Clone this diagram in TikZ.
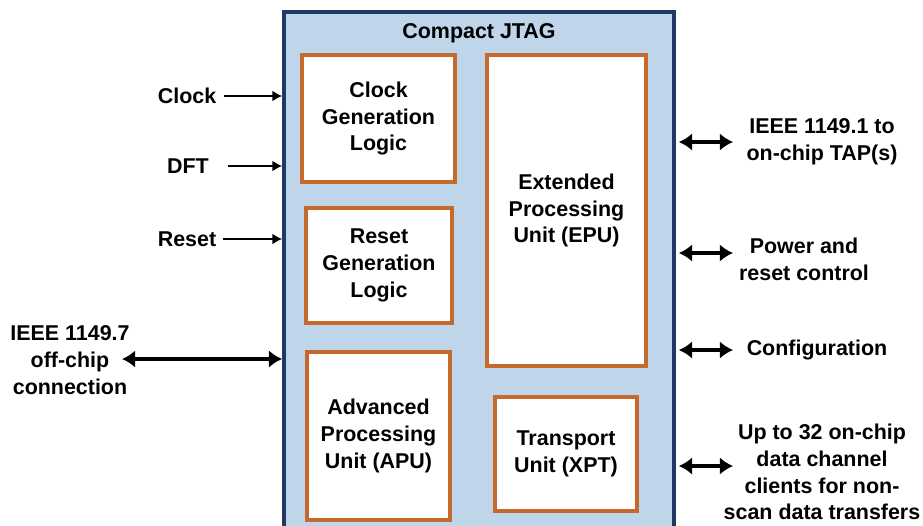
\documentclass[tikz,border=0pt]{standalone}
\usepackage{fontspec}
\usetikzlibrary{arrows.meta}
\setmainfont{Liberation Sans}
\definecolor{jtagfill}{RGB}{190,213,234}
\definecolor{jtagline}{RGB}{31,56,100}
\definecolor{unitline}{RGB}{197,106,44}
\newcommand{\txtsize}{\fontsize{12.2}{15.2}\selectfont\bfseries}
\tikzset{
  unitbox/.style={draw=unitline,line width=1.9pt,fill=white,align=center,font=\txtsize},
  lbl/.style={align=center,font=\txtsize,inner sep=2pt},
  sigarr/.style={-{Latex[length=5.5pt,width=6pt]},line width=0.7pt},
  busarr/.style={{Latex[length=7.5pt,width=10pt]}-{Latex[length=7.5pt,width=10pt]},line width=2.1pt}
}
\begin{document}
\begin{tikzpicture}[x=0.02cm,y=-0.02cm]
        \clip (0,0) rectangle (923,525);
        \node[draw=jtagline,line width=2.2pt,fill=jtagfill,minimum width=7.8cm,minimum height=10.96cm] (cjtag) at (479,286) {};
        \node[lbl] (title) at (479,33) {Compact JTAG};
        \node[unitbox,minimum width=3.06cm,minimum height=2.54cm] (clkgen) at (378.5,118.5) {Clock\\ Generation\\ Logic};
        \node[unitbox,minimum width=2.92cm,minimum height=2.3cm] (rstgen) at (379,265.5) {Reset\\ Generation\\ Logic};
        \node[unitbox,minimum width=2.86cm,minimum height=3.36cm] (apu) at (378.5,436) {Advanced\\ Processing\\ Unit (APU)};
        \node[unitbox,minimum width=3.18cm,minimum height=6.22cm] (epu) at (566.5,210.5) {Extended\\ Processing\\ Unit (EPU)};
        \node[unitbox,minimum width=2.84cm,minimum height=2.28cm] (xpt) at (566,454) {Transport\\ Unit (XPT)};
        % inputs on the left
        \node[lbl] (clk) at (187,96) {Clock};
        \draw[sigarr] (clk.east) ++(4,0) coordinate (clkstart) -- (clkstart -| cjtag.west);
        \node[lbl] (dft) at (188,166) {DFT};
        \draw[sigarr] (dft.east) ++(15,0) coordinate (dftstart) -- (dftstart -| cjtag.west);
        \node[lbl] (rst) at (187,239) {Reset};
        \draw[sigarr] (rst.east) ++(3,0) coordinate (rststart) -- (rststart -| cjtag.west);
        \node[lbl] (offchip) at (70,360) {IEEE 1149.7\\ off-chip\\ connection};
        \coordinate (offend) at (122,359);
        \draw[busarr] (offend) -- (offend -| cjtag.west);
        % interfaces on the right
        \node[lbl] (tap) at (822,142) {IEEE 1149.1 to\\ on-chip TAP(s)};
        \coordinate (tapend) at (733,142);
        \draw[busarr] (tapend -| cjtag.east) ++(3,0) -- (tapend);
        \node[lbl] (pwr) at (804,259) {Power and\\ reset control};
        \coordinate (pwrend) at (733,253);
        \draw[busarr] (pwrend -| cjtag.east) ++(3,0) -- (pwrend);
        \node[lbl] (cfg) at (817,350) {Configuration};
        \coordinate (cfgend) at (733,350);
        \draw[busarr] (cfgend -| cjtag.east) ++(3,0) -- (cfgend);
        \node[lbl] (data) at (822,472) {Up to 32 on-chip\\ data channel\\ clients for non-\\ scan data transfers};
        \coordinate (dataend) at (733,466);
        \draw[busarr] (dataend -| cjtag.east) ++(3,0) -- (dataend);
      \end{tikzpicture}
\end{document}
